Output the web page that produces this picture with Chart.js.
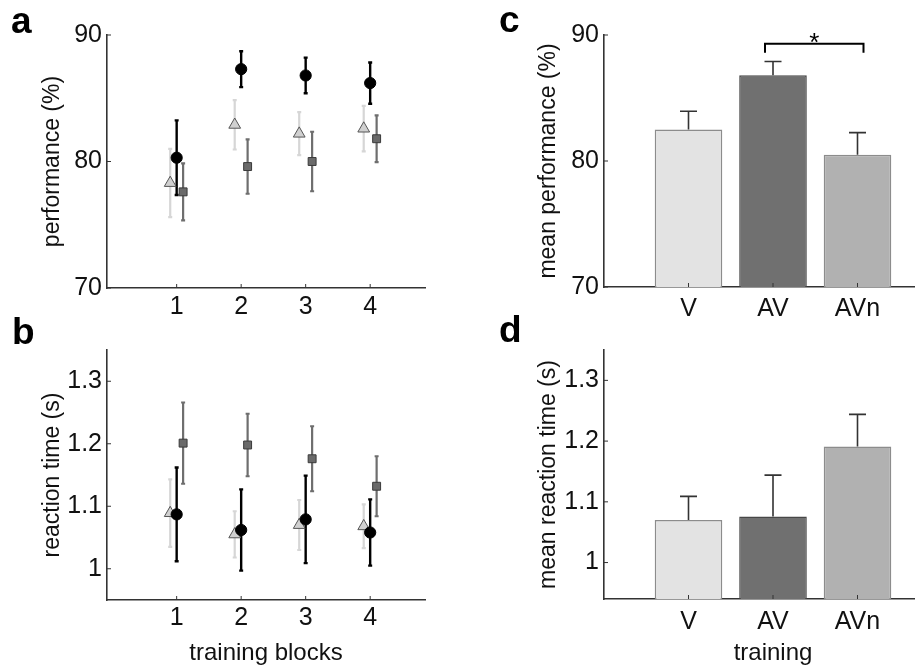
<!DOCTYPE html>
<html><head><meta charset="utf-8">
<script src="https://cdn.jsdelivr.net/npm/chart.js@4.4.1/dist/chart.umd.min.js"></script>
<style>
html,body{margin:0;padding:0;background:#fff;overflow:hidden;width:915px;height:670px;position:relative;}
canvas{position:absolute;}
.lbl{position:absolute;font:bold 37px 'Liberation Sans',Arial,sans-serif;line-height:37px;color:#000;}
</style></head><body>
<canvas id="ca" width="460" height="330" style="left:0;top:0"></canvas>
<canvas id="cb" width="460" height="340" style="left:0;top:330px"></canvas>
<canvas id="cc" width="490" height="330" style="left:460px;top:0"></canvas>
<canvas id="cd" width="490" height="340" style="left:460px;top:330px"></canvas>
<div class="lbl" style="left:11px;top:2px">a</div>
<div class="lbl" style="left:12px;top:313px">b</div>
<div class="lbl" style="left:499px;top:1px">c</div>
<div class="lbl" style="left:499px;top:311px">d</div>
<script>
// ---------- data ----------
const blocks = [1, 2, 3, 4];
// panel a: performance (%) per training block
const perfV      = [78.3, 82.9, 82.2, 82.6];
const perfVErr   = [2.7, 1.95, 1.7, 1.8];
const perfAV     = [80.3, 87.3, 86.8, 86.2];
const perfAVErr  = [2.95, 1.42, 1.41, 1.63];
const perfAVn    = [77.6, 79.6, 80.0, 81.8];
const perfAVnErr = [2.25, 2.15, 2.35, 1.85];
// panel b: reaction time (s) per training block
const rtV      = [1.089, 1.055, 1.070, 1.068];
const rtVErr   = [0.054, 0.037, 0.040, 0.035];
const rtAV     = [1.087, 1.062, 1.079, 1.058];
const rtAVErr  = [0.075, 0.065, 0.070, 0.053];
const rtAVn    = [1.201, 1.198, 1.176, 1.132];
const rtAVnErr = [0.065, 0.050, 0.052, 0.048];
// panels c, d: means per training condition
const groups      = ['V', 'AV', 'AVn'];
const meanPerf    = [82.5, 86.8, 80.5];
const meanPerfErr = [1.45, 1.1, 1.75];
const meanRT      = [1.070, 1.076, 1.191];
const meanRTErr   = [0.039, 0.068, 0.053];
// tick labels
const perfTicks = [70, 80, 90];
const rtTicks   = [1.0, 1.1, 1.2, 1.3];
// significance marker (panel c)
const sigGroups = ['AV', 'AVn'];
const sigText = '*';

// ---------- styles ----------
const TICKF = "'Liberation Sans',Arial,sans-serif";
const SANS = "'Liberation Sans',Arial,sans-serif";
const AXC = '#333';

const errPlugin = {
  id: 'errbars',
  draw(chart) {
    const ctx = chart.ctx, ys = chart.scales.y;
    ctx.save();
    for (let i = chart.data.datasets.length - 1; i >= 0; i--) {
      const ds = chart.data.datasets[i];
      if (!ds.err) continue;
      const meta = chart.getDatasetMeta(i);
      meta.data.forEach((el, j) => {
        const v = ds.data[j].y, e = ds.err[j], x = el.x;
        const yTop = ys.getPixelForValue(v + e);
        const yBot = ds.errUpOnly ? el.y : ys.getPixelForValue(v - e);
        const c = ds.capWidth / 2;
        ctx.strokeStyle = ds.errColor; ctx.lineWidth = ds.errWidth;
        ctx.beginPath();
        ctx.moveTo(x, yTop); ctx.lineTo(x, yBot);
        ctx.moveTo(x - c, yTop); ctx.lineTo(x + c, yTop);
        if (!ds.errUpOnly) { ctx.moveTo(x - c, yBot); ctx.lineTo(x + c, yBot); }
        ctx.stroke();
      });
    }
    ctx.restore();
  },
  beforeDatasetsDraw(chart) { if (chart.config.type !== 'bar') this.draw(chart); },
  afterDatasetsDraw(chart) { if (chart.config.type === 'bar') this.draw(chart); }
};

const tickPlugin = {
  id: 'inticks',
  afterDraw(chart) {
    const {ctx, chartArea} = chart, xs = chart.scales.x, ys = chart.scales.y;
    ctx.save(); ctx.strokeStyle = AXC; ctx.lineWidth = 1; ctx.beginPath();
    xs.ticks.forEach(t => { const p = xs.getPixelForValue(t.value); ctx.moveTo(p, chartArea.bottom); ctx.lineTo(p, chartArea.bottom - 4); });
    ys.ticks.forEach(t => { const p = ys.getPixelForValue(t.value); ctx.moveTo(chartArea.left, p); ctx.lineTo(chartArea.left + 4, p); });
    ctx.stroke(); ctx.restore();
  }
};

const sigPlugin = {
  id: 'sig',
  afterDraw(chart) {
    const o = chart.options.plugins.sig;
    if (!o || !o.show) return;
    const ctx = chart.ctx, xs = chart.scales.x, ys = chart.scales.y;
    const x1 = xs.getPixelForValue(groups.indexOf(sigGroups[0]) + 1) - 8;
    const x2 = xs.getPixelForValue(groups.indexOf(sigGroups[1]) + 1) + 6;
    const y = ys.getPixelForValue(o.level), yl = ys.getPixelForValue(o.level - o.leg);
    ctx.save(); ctx.strokeStyle = '#000'; ctx.lineWidth = 2;
    ctx.beginPath(); ctx.moveTo(x1, yl); ctx.lineTo(x1, y); ctx.lineTo(x2, y); ctx.lineTo(x2, yl); ctx.stroke();
    ctx.fillStyle = '#000'; ctx.font = '26px ' + SANS; ctx.textAlign = 'center'; ctx.textBaseline = 'alphabetic';
    ctx.fillText(sigText, (x1 + x2) / 2, y + 7);
    ctx.restore();
  }
};

function fixedTicks(list) { return s => { s.ticks = list.map(v => ({value: v})); }; }

function axes(o) {
  return {
    x: {
      type: 'linear', min: o.xmin, max: o.xmax, offset: false,
      afterBuildTicks: fixedTicks(o.xticks),
      afterFit: s => { s.height = o.xh; },
      grid: {display: false, drawTicks: false, offset: false},
      border: {display: true, color: AXC, width: 1.6},
      ticks: {color: '#111', font: {family: TICKF, size: 25}, padding: o.xpad, maxRotation: 0, autoSkip: false,
              callback: o.xlab},
      title: o.xtitle ? {display: true, text: o.xtitle, color: '#111', font: {family: SANS, size: 24}, padding: {top: 0, bottom: 2}} : {display: false}
    },
    y: {
      type: 'linear', min: o.ymin, max: o.ymax,
      afterBuildTicks: fixedTicks(o.yticks),
      afterFit: s => { s.width = o.yw; },
      grid: {display: false, drawTicks: false},
      border: {display: true, color: AXC, width: 1.6},
      ticks: {color: '#111', font: {family: TICKF, size: 25}, padding: 5,
              callback: v => String(Math.round(v * 10) / 10)},
      title: {display: true, text: o.ytitle, color: '#111', font: {family: SANS, size: 23}, padding: {top: o.ytpad, bottom: 0}}
    }
  };
}

const common = {
  responsive: false, animation: false, events: [],
  plugins: {legend: {display: false}, tooltip: {enabled: false}}
};

function scatterSets(avVals, avErr, vVals, vErr, avnVals, avnErr) {
  return [
    {label: 'AV', data: blocks.map((b, i) => ({x: b, y: avVals[i]})), err: avErr,
     pointStyle: 'circle', pointRadius: 5.6, backgroundColor: '#000', borderColor: '#000', borderWidth: 1,
     errColor: '#000', errWidth: 2.4, capWidth: 4},
    {label: 'AVn', data: blocks.map((b, i) => ({x: b + 0.1, y: avnVals[i]})), err: avnErr,
     pointStyle: 'rect', pointRadius: 5.6, backgroundColor: '#6a6a6a', borderColor: '#3a3a3a', borderWidth: 1,
     errColor: '#6e6e6e', errWidth: 2.2, capWidth: 4},
    {label: 'V', data: blocks.map((b, i) => ({x: b - 0.1, y: vVals[i]})), err: vErr,
     pointStyle: 'triangle', pointRadius: 6.8, backgroundColor: '#d0d0d0', borderColor: '#555', borderWidth: 1,
     errColor: '#d6d6d6', errWidth: 2.2, capWidth: 4}
  ];
}

function barSet(vals, errs) {
  return [{
    data: groups.map((g, i) => ({x: i + 1, y: vals[i]})), err: errs, errUpOnly: true,
    backgroundColor: ['#e3e3e3', '#707070', '#b1b1b1'],
    borderColor: ['#8c8c8c', '#474747', '#8c8c8c'], borderWidth: 1.5, borderSkipped: 'bottom',
    barPercentage: 0.8, categoryPercentage: 1,
    errColor: '#333', errWidth: 1.6, capWidth: 17
  }];
}

// panel a
new Chart(document.getElementById('ca'), {
  type: 'scatter',
  data: {datasets: scatterSets(perfAV, perfAVErr, perfV, perfVErr, perfAVn, perfAVnErr)},
  options: Object.assign({}, common, {
    layout: {padding: {top: 35, right: 35, left: 0, bottom: 0}},
    scales: axes({xmin: -0.08, xmax: 4.85, xticks: blocks, xh: 42, xpad: 4, xlab: v => String(v),
                  ymin: 70, ymax: 90, yticks: perfTicks, yw: 107, ytitle: 'performance (%)', ytpad: 39})
  }),
  plugins: [errPlugin, tickPlugin]
});

// panel b
new Chart(document.getElementById('cb'), {
  type: 'scatter',
  data: {datasets: scatterSets(rtAV, rtAVErr, rtV, rtVErr, rtAVn, rtAVnErr)},
  options: Object.assign({}, common, {
    layout: {padding: {top: 17, right: 35, left: 0, bottom: 0}},
    scales: axes({xmin: -0.08, xmax: 4.85, xticks: blocks, xh: 70, xpad: 3, xlab: v => String(v), xtitle: 'training blocks',
                  ymin: 0.95, ymax: 1.35, yticks: rtTicks, yw: 107, ytitle: 'reaction time (s)', ytpad: 39})
  }),
  plugins: [errPlugin, tickPlugin]
});

// panel c
new Chart(document.getElementById('cc'), {
  type: 'bar',
  data: {datasets: barSet(meanPerf, meanPerfErr)},
  options: Object.assign({}, common, {
    layout: {padding: {top: 35, right: 8, left: 0, bottom: 0}},
    plugins: {legend: {display: false}, tooltip: {enabled: false}, sig: {show: true, level: 89.3, leg: 0.7}},
    scales: axes({xmin: 0, xmax: 4, xticks: [1, 2, 3], xh: 43, xpad: 7, xlab: v => groups[v - 1] || '',
                  ymin: 70, ymax: 90, yticks: perfTicks, yw: 144, ytitle: 'mean performance (%)', ytpad: 75})
  }),
  plugins: [errPlugin, tickPlugin, sigPlugin]
});

// panel d
new Chart(document.getElementById('cd'), {
  type: 'bar',
  data: {datasets: barSet(meanRT, meanRTErr)},
  options: Object.assign({}, common, {
    layout: {padding: {top: 17, right: 8, left: 0, bottom: 0}},
    scales: axes({xmin: 0, xmax: 4, xticks: [1, 2, 3], xh: 71, xpad: 8, xlab: v => groups[v - 1] || '', xtitle: 'training',
                  ymin: 0.94, ymax: 1.35, yticks: rtTicks, yw: 144, ytitle: 'mean reaction time (s)', ytpad: 75})
  }),
  plugins: [errPlugin, tickPlugin]
});
</script>
</body></html>
